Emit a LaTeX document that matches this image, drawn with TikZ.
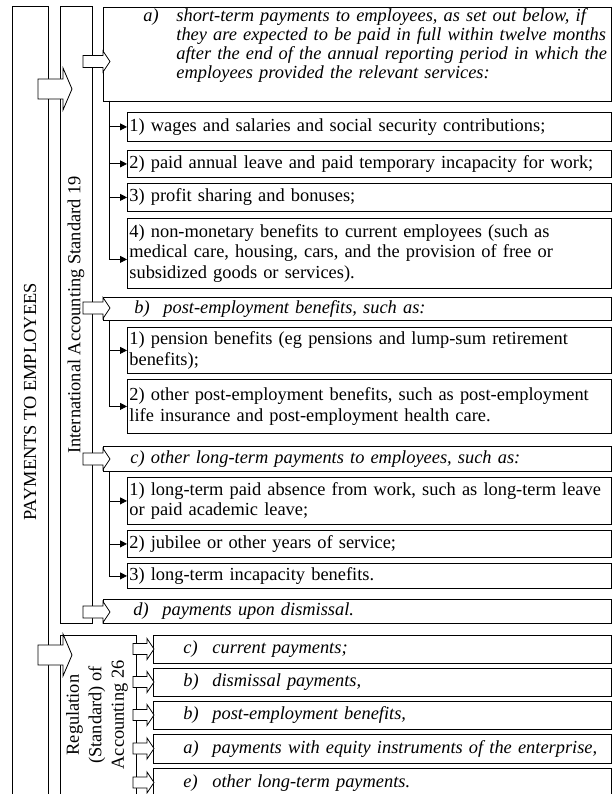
\documentclass[tikz,border=0pt]{standalone}
\usepackage{fontspec}
\setmainfont{Liberation Serif}
\usetikzlibrary{arrows.meta}

% block arrow: start x, mid y, shaft length, head length, shaft half width, head half width
\newcommand{\blockarrow}[6]{%
  \draw[fill=white] (#1,#2-#5) -- ++(#3,0) -- ++(0,#5-#6) -- ++(#4,#6)
    -- ++(-#4,#6) -- ++(0,#5-#6) -- ++(-#3,0) -- cycle;}
% label of a heading
\newcommand{\lbl}[2]{\hspace{#1}\makebox[29pt][l]{#2}}

\begin{document}
\begin{tikzpicture}[x=1pt,y=-1pt,line width=0.8pt,
  font=\fontsize{18.4}{20.5}\selectfont,
  frame/.style={draw,anchor=north west,inner sep=0pt},
  item/.style={draw,anchor=north west,text width=480pt,inner xsep=2pt,
    inner ysep=0pt,align=left},
  head/.style={draw,fill=white,anchor=north west,text width=508pt,
    inner sep=0pt,align=left,font=\fontsize{18.4}{19}\selectfont\itshape},
  rhead/.style={head,text width=458pt},
  conn/.style={-{Triangle[length=7pt,width=7pt]}}]

  \clip (0,0) rectangle (613,794);

  % frames on the left
  \node[frame,minimum width=36pt,minimum height=800pt] (pay) at (12,6) {};
  \node[frame,minimum width=32pt,minimum height=617pt] (ias) at (60,6) {};
  \node[frame,minimum width=76pt,minimum height=200pt] (reg) at (60,635) {};

  \node[rotate=90] (paytext) at (30,402) {PAYMENTS TO EMPLOYEES};
  \node[rotate=90] (iastext) at (76,315) {International Accounting Standard 19};
  \node[rotate=90,align=center,font=\fontsize{18.4}{22.5}\selectfont]
    (regtext) at (97,715) {Regulation\\(Standard) of\\Accounting 26};

  % IAS 19 headings
  \node[head,minimum height=94pt,text depth=79pt]
    (ha) at (103,7) {\hspace{40pt}\makebox[33pt][l]{a)}\parbox[t]{434pt}{\raggedright
    short-term payments to employees, as set out below, if\\
    they are expected to be paid in full within twelve months\\
    after the end of the annual reporting period in which the\\
    employees provided the relevant services:}};
  \node[head,minimum height=23pt] (hb) at (103,297)
    {\lbl{31pt}{b)}post-employment benefits, such as:};
  \node[head,minimum height=25pt] (hc) at (103,446)
    {\hspace{27pt}c) other long-term payments to employees, such as:};
  \node[head,minimum height=24pt] (hd) at (103,599)
    {\lbl{30pt}{d)}payments upon dismissal.};

  % items
  \node[item,minimum height=29pt] (a1) at (127,112)
    {1) wages and salaries and social security contributions;};
  \node[item,minimum height=27pt] (a2) at (127,150)
    {2) paid annual leave and paid temporary incapacity for work;};
  \node[item,minimum height=28pt] (a3) at (127,183)
    {3) profit sharing and bonuses;};
  \node[item,minimum height=70pt] (a4) at (127,218)
    {4) non-monetary benefits to current employees (such as\\
     medical care, housing, cars, and the provision of free or\\
     subsidized goods or services).};

  \node[item,minimum height=46pt] (b1) at (127,327)
    {1) pension benefits (eg pensions and lump-sum retirement\\
     benefits);};
  \node[item,minimum height=54pt] (b2) at (127,379)
    {2) other post-employment benefits, such as post-employment\\
     life insurance and post-employment health care.};

  \node[item,minimum height=47pt] (c1) at (127,477)
    {1) long-term paid absence from work, such as long-term leave\\
     or paid academic leave;};
  \node[item,minimum height=27pt] (c2) at (127,530)
    {2) jubilee or other years of service;};
  \node[item,minimum height=25pt] (c3) at (127,563)
    {3) long-term incapacity benefits.};

  % Regulation 26 headings
  \node[rhead,minimum height=28pt] (r1) at (153,635)
    {\lbl{30pt}{c)}current payments;};
  \node[rhead,minimum height=28pt] (r2) at (153,668)
    {\lbl{30pt}{b)}dismissal payments,};
  \node[rhead,minimum height=28pt] (r3) at (153,701)
    {\lbl{30pt}{b)}post-employment benefits,};
  \node[rhead,minimum height=29pt] (r4) at (153,734)
    {\lbl{30pt}{a)}payments with equity instruments of the enterprise,};
  \node[rhead,minimum height=29pt] (r5) at (153,768)
    {\lbl{30pt}{e)}other long-term payments.};

  % connectors
  \coordinate (ta) at (109,101);
  \coordinate (tb) at (109,320);
  \coordinate (tc) at (109,471);
  \foreach \n in {a1,a2,a3}
    \draw[conn] (ta) |- (\n.west);
  \draw[conn] (ta) |- ([yshift=-6pt]a4.west);
  \foreach \n in {b1,b2}
    \draw[conn] (tb) |- (\n.west);
  \foreach \n in {c1,c2,c3}
    \draw[conn] (tc) |- (\n.west);

  % block arrows
  \blockarrow{38}{89}{25}{9}{10}{21}
  \blockarrow{38}{655}{25}{9}{10}{21}
  \foreach \y in {61.5,308,459,612}
    {\blockarrow{83}{\y}{20}{7}{6}{10.5}}
  \foreach \y in {649,682,715,748.5,782.5}
    {\blockarrow{133}{\y}{14}{7}{5.5}{10.5}}

\end{tikzpicture}
\end{document}
